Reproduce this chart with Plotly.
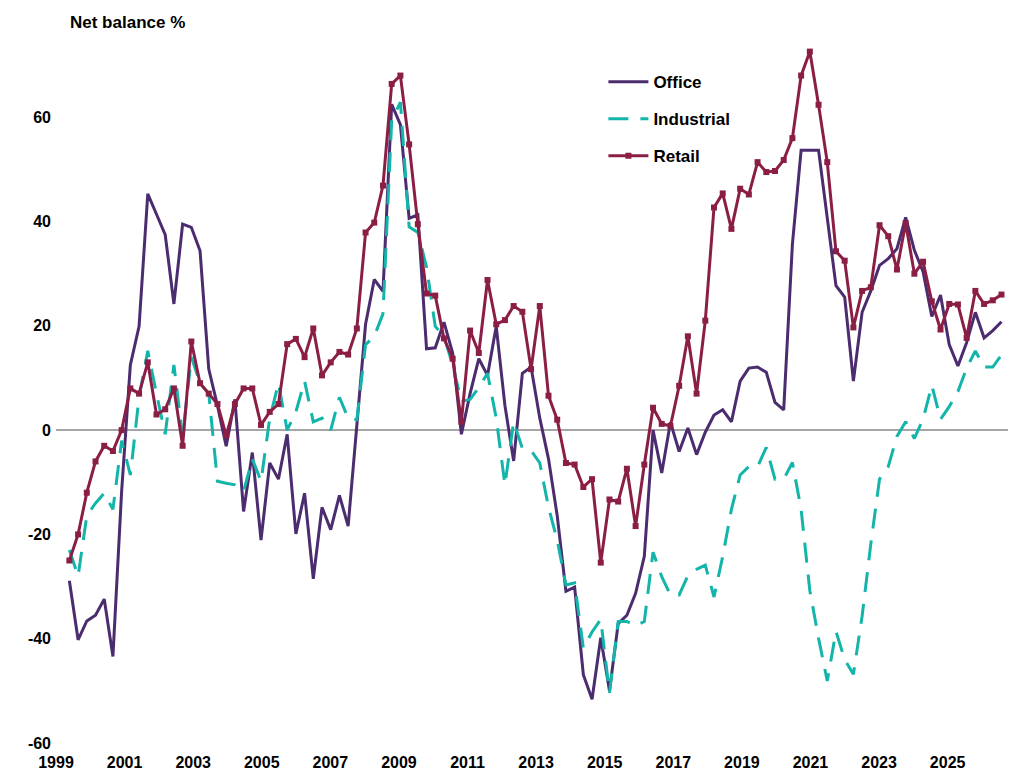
import numpy as np
import plotly.graph_objects as go

office = [-28.9,-40.2,-36.6,-35.5,-32.4,-43.4,-11.7,12.5,19.9,45.3,41.4,37.5,24.2,39.5,38.9,34.4,11.7,4.7,-3.1,5.9,-15.6,-4.3,-21.1,-6.3,-9.4,-0.8,-19.9,-12.1,-28.5,-14.8,-19.1,-12.5,-18.4,0.8,20.3,28.9,26.6,
          62.5,58.6,40.6,41.3,15.6,15.8,20.7,14.8,-0.8,7,13.7,10.5,19.9,4.7,-5.9,10.9,12.1,2.3,-5.5,-16.4,-30.9,-30.1,-46.9,-51.6,-39.8,-50,-37.1,-35.5,-31.3,-24.2,0,-8.2,
          1.5,-4.1,0.4,-4.7,-0.4,2.9,3.9,1.6,9.4,11.9,12.1,11.1,5.3,3.9,35.7,53.7,53.7,53.7,40.7,27.7,25.5,9.4,22.6,26.7,31.6,32.9,34.8,40.8,34.5,30.4,21.8,25.9,16.4,12.3,16.8,22.6,17.7,19.1,20.8]
industrial = [-23,-28,-16.4,-14,-12.1,-15.2,-2,-8.6,6.3,15.2,7,-0.8,12.5,-1.2,14,9,7,-9.8,-10.2,-10.5,-11.7,-5.5,-9.8,2.3,9,0,3.5,9.4,1.6,2.3,0,6.3,2.3,2,16.4,18,22.3,
              59.4,62.9,39,37.9,31.3,19.9,18,12.5,5.5,5.9,8.2,10.9,2.3,-10.5,1.6,-3.5,-3.9,-6.3,-14.8,-21.1,-29.7,-29.3,-41.8,-38.7,-36.3,-50.4,-36.7,-36.7,-37.5,-36.7,-23.4,-28.1,
              -31.6,-31.6,-27.9,-26.7,-25.9,-32,-24.2,-15.2,-8.6,-7,-7,-3.3,-9.4,-9.4,-6.2,-15.2,-30.8,-39.9,-48.1,-38.6,-44,-46.8,-35.7,-21.8,-9.4,-7,-1.2,1.6,-1.6,2.1,8.6,2.1,4.5,7.4,11.9,15.2,12.1,12.1,14.4]
retail = [-25,-20,-12,-6,-3,-4,0,8,7,13,3,4,8,-3,17,9,7,5,-1,5,8,8,1,3.5,5,16.5,17.5,14,19.5,10.5,13,15,14.5,19.5,
          37.9,39.8,46.9,66.4,68,54.8,39.5,26.2,25.8,17.6,13.7,1.6,19.1,14.8,28.8,20.3,21.1,23.8,22.7,11.7,23.8,6.6,2,-6.3,-6.6,-10.9,-9.4,-25.4,-13.3,-13.7,-7.4,-18.4,-6.6,4.3,1.2,
          0.8,8.5,18,7,21,42.7,45.4,38.6,46.3,45.2,51.4,49.5,49.7,51.8,56,68,72.6,62.4,51.4,34.3,32.5,19.7,26.7,27.4,39.3,37.2,30.8,39.7,30,32.3,24.7,19.3,24.2,24.1,17.7,26.7,24.2,24.9,26]

x_start, x_end = 1999.39, 2026.57
def xs(v):
    return np.linspace(x_start, x_end, len(v))

fig = go.Figure()
fig.add_trace(go.Scatter(x=xs(office), y=office, name="Office", mode="lines", legendgroup="o",
                         line=dict(color="#4B2C6F", width=3)))
fig.add_trace(go.Scatter(x=xs(industrial), y=industrial, name="Industrial", mode="lines", legendgroup="i",
                         line=dict(color="#13B5AA", width=3, dash="20px,12px")))
fig.add_trace(go.Scatter(x=xs(retail), y=retail, name="Retail", mode="lines+markers", legendgroup="r",
                         line=dict(color="#8B1E45", width=3),
                         marker=dict(symbol="square", size=6, color="#8B1E45")))

font = dict(family="Liberation Sans, Arial", size=16, color="black")
fig.update_layout(
    width=1024, height=775, plot_bgcolor="white", paper_bgcolor="white",
    margin=dict(l=48, r=24, t=5, b=40),
    font=font, showlegend=True,
    legend=dict(x=0.575, y=0.93, xanchor="left", yanchor="top", bgcolor="rgba(0,0,0,0)",
                font=dict(family="Liberation Sans, Arial", size=17, color="black", weight="bold"),
                tracegroupgap=12, itemwidth=40),
    annotations=[dict(text="<b>Net balance %</b>", x=0.0, y=1.0, xref="paper", yref="paper",
                      xanchor="left", yanchor="top", xshift=12, yshift=2, showarrow=False,
                      font=dict(family="Liberation Sans, Arial", size=17, color="black"))],
)
fig.update_xaxes(range=[1999, 2026.76], tickmode="array", tickvals=list(range(1999, 2026, 2)),
                 ticktext=[f"<b>{y}</b>" for y in range(1999, 2026, 2)],
                 showgrid=False, zeroline=False, showline=False, ticks="", ticklabelstandoff=8)
fig.update_yaxes(range=[-60, 80], tickmode="array", tickvals=list(range(-60, 81, 20)),
                 ticktext=[f"<b>{v}</b>" for v in range(-60, 81, 20)],
                 showgrid=False, zeroline=True, zerolinecolor="#A6A6A6", zerolinewidth=1.5,
                 showline=False, ticks="", ticklabelstandoff=4)
fig.write_html("out.html")
